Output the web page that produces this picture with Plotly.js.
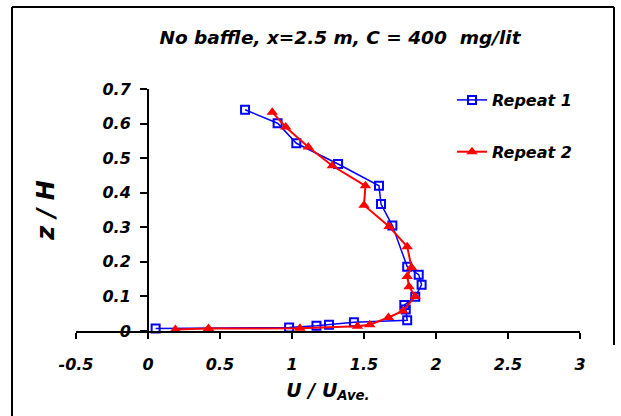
<!DOCTYPE html>
<html>
<head>
<meta charset="utf-8">
<script src="https://cdn.plot.ly/plotly-3.0.1.min.js"></script>
<style>html,body{margin:0;padding:0;background:#fff;}#chart{width:621px;height:416px;}</style>
</head>
<body>
<div id="chart"></div>
<script>
// Repeat 1 (blue open squares)
const rep1U = [0.674, 0.90, 1.03, 1.32, 1.604, 1.618, 1.697, 1.80, 1.88, 1.90, 1.856, 1.78, 1.79, 1.80, 1.43, 1.257, 1.17, 0.98, 0.053];
const rep1Z = [0.640, 0.601, 0.543, 0.483, 0.420, 0.367, 0.305, 0.186, 0.163, 0.134, 0.099, 0.075, 0.062, 0.031, 0.025, 0.018, 0.015, 0.010, 0.007];
// Repeat 2 (red filled triangles)
const rep2U = [0.863, 0.956, 1.113, 1.28, 1.51, 1.50, 1.674, 1.80, 1.83, 1.80, 1.813, 1.856, 1.77, 1.67, 1.54, 1.455, 1.055, 0.42, 0.19];
const rep2Z = [0.633, 0.590, 0.532, 0.478, 0.420, 0.364, 0.302, 0.244, 0.184, 0.158, 0.128, 0.100, 0.058, 0.039, 0.018, 0.014, 0.008, 0.007, 0.004];
// Axis ticks
const xTickVals = [-0.5, 0, 0.5, 1, 1.5, 2, 2.5, 3];
const xTickText = ["-0.5", "0", "0.5", "1", "1.5", "2", "2.5", "3"];
const yTickVals = [0, 0.1, 0.2, 0.3, 0.4, 0.5, 0.6, 0.7];
const yTickText = ["0", "0.1", "0.2", "0.3", "0.4", "0.5", "0.6", "0.7"];

const FAM = "DejaVu Sans, Liberation Sans, Arial, sans-serif";
const tickFont = {family: FAM, size: 16, color: "#000", weight: "bold", style: "italic"};

const traces = [
  {
    x: rep1U, y: rep1Z, name: "Repeat 1", type: "scatter", mode: "lines+markers",
    legendgroup: "a", cliponaxis: false,
    line: {color: "#0000FF", width: 1.5},
    marker: {symbol: "square-open", size: 8, color: "#0000FF", line: {color: "#0000FF", width: 2}}
  },
  {
    x: rep2U, y: rep2Z, name: "Repeat 2", type: "scatter", mode: "lines+markers",
    legendgroup: "b", cliponaxis: false,
    line: {color: "#FF0000", width: 2},
    marker: {symbol: "triangle-up", size: 10, color: "#FF0000"}
  }
];

const layout = {
  width: 621, height: 416,
  margin: {l: 76, r: 41, t: 89, b: 85, pad: 0},
  paper_bgcolor: "#fff", plot_bgcolor: "rgba(0,0,0,0)",
  showlegend: true,
  title: {
    text: "No baffle, x=2.5 m, C = 400\u00a0 mg/lit",
    font: {family: FAM, size: 18.5, color: "#000", weight: "bold", style: "italic"},
    xref: "container", x: 340 / 621, xanchor: "center",
    yref: "container", y: 1 - 38 / 416, yanchor: "middle"
  },
  xaxis: {
    range: [-0.5, 3], tickmode: "array", tickvals: xTickVals, ticktext: xTickText,
    showgrid: false, zeroline: false, showline: true, linecolor: "#000", linewidth: 2,
    ticks: "outside", ticklen: 6, tickwidth: 2, tickcolor: "#000",
    tickfont: tickFont, ticklabelstandoff: 12,
    anchor: "y",
    title: {text: "U / U<sub>Ave.</sub>", font: {family: FAM, size: 19, color: "#000", weight: "bold", style: "italic"}, standoff: 10}
  },
  yaxis: {
    range: [0, 0.7], tickmode: "array", tickvals: yTickVals, ticktext: yTickText,
    showgrid: false, zeroline: false, showline: true, linecolor: "#000", linewidth: 2,
    ticks: "outside", ticklen: 7, tickwidth: 2, tickcolor: "#000",
    tickfont: tickFont, ticklabelstandoff: 6,
    anchor: "free", position: 0.5 / 3.5,
    title: {text: "z / H", font: {family: FAM, size: 24, color: "#000", weight: "bold", style: "italic"}, standoff: 40}
  },
  legend: {
    x: (452 - 76) / 504, xanchor: "left", y: (331 - 83) / 242, yanchor: "top",
    bgcolor: "rgba(0,0,0,0)", borderwidth: 0,
    traceorder: "grouped", tracegroupgap: 28,
    font: {family: FAM, size: 16, color: "#000", weight: "bold", style: "italic"}
  },
  shapes: [
    {type: "line", xref: "paper", yref: "paper", x0: (12 - 76) / 504, x1: (12 - 76) / 504, y0: (331 - 420) / 242, y1: (331 - 7) / 242, line: {color: "#000", width: 2}},
    {type: "line", xref: "paper", yref: "paper", x0: (12 - 76) / 504, x1: (614 - 76) / 504, y0: (331 - 7) / 242, y1: (331 - 7) / 242, line: {color: "#000", width: 2}},
    {type: "line", xref: "paper", yref: "paper", x0: (614 - 76) / 504, x1: (614 - 76) / 504, y0: (331 - 345) / 242, y1: (331 - 7) / 242, line: {color: "#000", width: 2}}
  ]
};

Plotly.newPlot("chart", traces, layout, {staticPlot: true, displayModeBar: false});
</script>
</body>
</html>
